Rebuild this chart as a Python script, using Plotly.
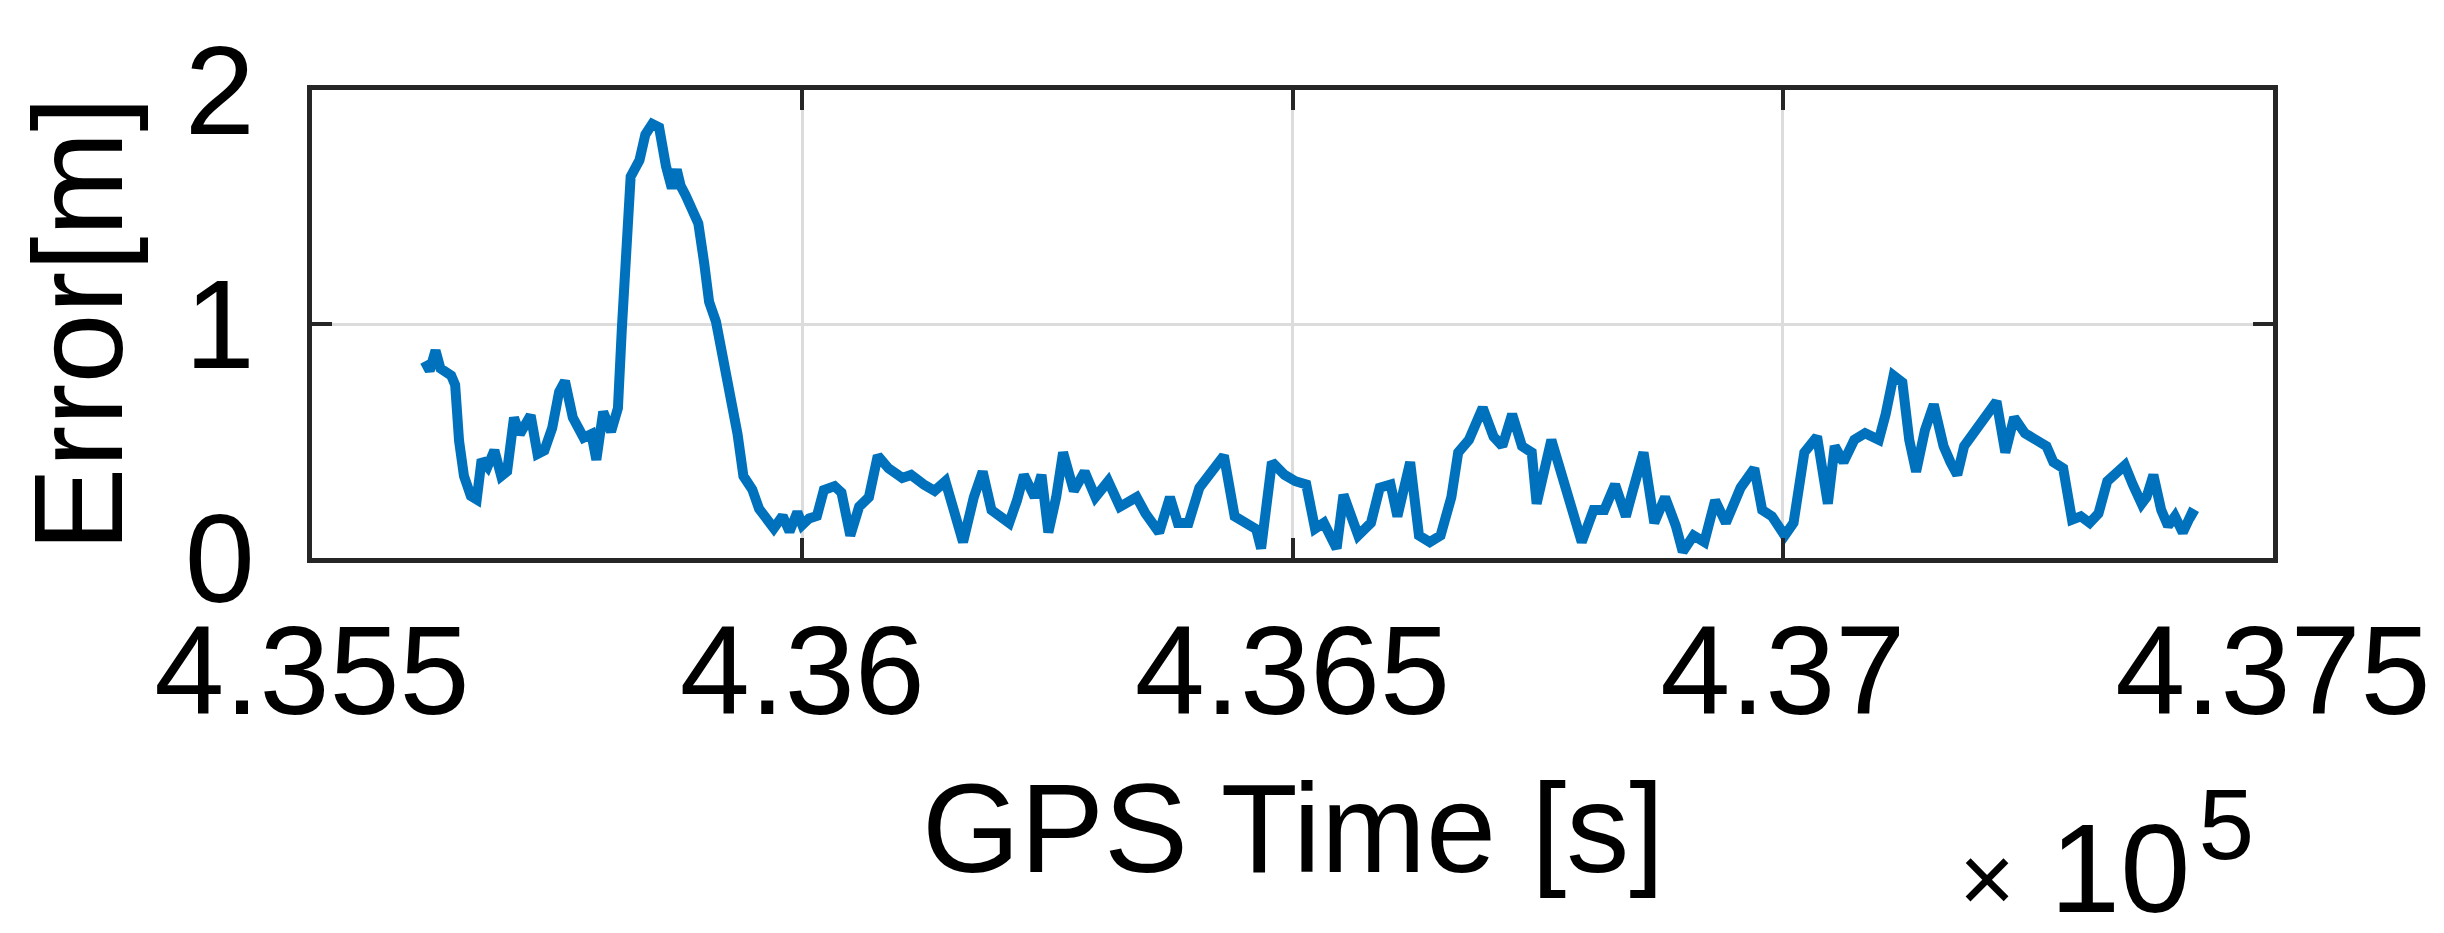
import plotly.graph_objects as go

# GPS time [s] and positioning error [m]
gps_time = [
    435615, 435620, 435626, 435631, 435642, 435646, 435650, 435655, 435662, 435668,
    435673, 435679, 435686, 435693, 435699, 435706, 435712, 435723, 435730, 435737,
    435745, 435752, 435758, 435766, 435777, 435785, 435790, 435797, 435805, 435812,
    435816, 435819, 435825, 435834, 435840, 435847, 435854, 435861, 435867, 435872,
    435876, 435881, 435887, 435894, 435900, 435905, 435912, 435918, 435927, 435934,
    435940, 435949, 435956, 435964, 435971, 435980, 435987, 435995, 436000, 436007,
    436015, 436022, 436033, 436040,
    436049, 436058, 436068, 436077, 436088, 436102, 436111, 436124, 436135, 436146,
    436157, 436164, 436175, 436184, 436193, 436204, 436211, 436219, 436226, 436237,
    436244, 436251, 436259, 436266, 436277, 436288, 436299, 436312, 436324, 436341,
    436350, 436364, 436375, 436383, 436394, 436405, 436419, 436430, 436441, 436452,
    436463, 436468, 436479, 436492, 436503, 436514, 436523, 436532, 436545, 436552,
    436567, 436580, 436589, 436600, 436607, 436620, 436629, 436640, 436651, 436662,
    436669, 436680, 436694, 436705, 436714, 436724, 436734, 436744, 436749, 436764,
    436775, 436785, 436795, 436807, 436818, 436829, 436840, 436847, 436858, 436869,
    436880, 436891, 436898, 436909, 436920, 436931, 436942, 436957, 436971, 436979,
    436989, 437002, 437011, 437022, 437035, 437046, 437053, 437062, 437073, 437084,
    437098, 437105, 437113, 437122, 437129, 437136, 437145, 437154, 437164, 437171,
    437178, 437185, 437196, 437207, 437218, 437227, 437236, 437247, 437258, 437269,
    437276, 437286, 437295, 437304, 437313, 437322, 437331, 437340, 437349, 437357,
    437366, 437371, 437378, 437386, 437393, 437400, 437408, 437417, 437422,
]
error_m = [
    0.84, 0.80, 0.887, 0.81, 0.78, 0.74, 0.50, 0.35, 0.265, 0.25,
    0.42, 0.39, 0.46, 0.35, 0.37, 0.60, 0.53, 0.61, 0.445, 0.46,
    0.556, 0.71, 0.756, 0.60, 0.514, 0.53, 0.42, 0.625, 0.54, 0.64,
    0.98, 1.26, 1.63, 1.70, 1.81, 1.855, 1.84, 1.675, 1.58, 1.66,
    1.59, 1.55, 1.495, 1.43, 1.26, 1.095, 1.01, 0.874, 0.71, 0.53,
    0.35, 0.293, 0.21, 0.155, 0.127, 0.18, 0.113, 0.196, 0.141, 0.169,
    0.18, 0.29, 0.307, 0.28,
    0.096, 0.219, 0.26, 0.437, 0.383, 0.342, 0.355, 0.314, 0.287, 0.328,
    0.178, 0.068, 0.26, 0.369, 0.205, 0.178, 0.15, 0.246, 0.355, 0.26,
    0.355, 0.109, 0.26, 0.451, 0.287, 0.369, 0.26, 0.328, 0.219, 0.26,
    0.191, 0.109, 0.26, 0.15, 0.15, 0.30, 0.369, 0.437, 0.178, 0.15,
    0.123, 0.041, 0.41, 0.355, 0.328, 0.314, 0.125, 0.15, 0.041, 0.27,
    0.096, 0.15, 0.30, 0.314, 0.178, 0.41, 0.096, 0.068, 0.096, 0.26,
    0.451, 0.505, 0.642, 0.519, 0.478, 0.615, 0.478, 0.451, 0.232, 0.505,
    0.342, 0.232, 0.068, 0.205, 0.205, 0.314, 0.178, 0.287, 0.451, 0.15,
    0.26, 0.137, 0.027, 0.096, 0.068, 0.246, 0.15, 0.30, 0.383, 0.205,
    0.178, 0.096, 0.15, 0.451, 0.519, 0.232, 0.478, 0.41, 0.505, 0.533,
    0.505, 0.615, 0.779, 0.75, 0.505, 0.369, 0.546, 0.656, 0.478, 0.41,
    0.355, 0.478, 0.546, 0.60, 0.669, 0.451, 0.60, 0.533, 0.505, 0.478,
    0.41, 0.383, 0.164, 0.178, 0.15, 0.19, 0.328, 0.369, 0.396, 0.314,
    0.232, 0.26, 0.355, 0.205, 0.137, 0.178, 0.109, 0.19, 0.178,
]

x_tick_vals = [435500, 436000, 436500, 437000, 437500]
x_tick_text = ["4.355", "4.36", "4.365", "4.37", "4.375"]
y_tick_vals = [0, 1, 2]
y_tick_text = ["0", "1", "2"]

FONT = "Liberation Sans, Arial, sans-serif"
AX = "#262626"
GRID = "#dcdcdc"
FS = 126

fig = go.Figure()
fig.add_trace(go.Scatter(
    x=gps_time, y=error_m, mode="lines",
    line=dict(color="#0072BD", width=10),
    showlegend=False,
))

axis_common = dict(
    showline=True, linewidth=5, linecolor=AX, mirror="allticks",
    ticks="inside", ticklen=20, tickwidth=4, tickcolor=AX,
    showgrid=True, gridcolor=GRID, gridwidth=3, zeroline=False,
    tickfont=dict(family=FONT, size=FS, color="black"),
    ticklabeloverflow="allow",
)

fig.update_layout(
    width=2444, height=933, autosize=False,
    margin=dict(l=304, r=179, t=62, b=383, pad=0),
    paper_bgcolor="white", plot_bgcolor="white",
    xaxis=dict(
        range=[435500, 437500], tickmode="array",
        tickvals=x_tick_vals, ticktext=x_tick_text,
        ticklabelstandoff=0,
        **axis_common,
    ),
    yaxis=dict(
        range=[0, 2], tickmode="array",
        tickvals=y_tick_vals, ticktext=y_tick_text,
        ticklabelstandoff=27,
        title=dict(text="Error[m]", font=dict(family=FONT, size=FS, color="black"), standoff=61),
        **axis_common,
    ),
    annotations=[
        dict(
            text="GPS Time [s]", xref="paper", yref="paper",
            x=0.5, y=-0.424, xanchor="center", yanchor="top", showarrow=False,
            font=dict(family=FONT, size=FS, color="black"),
        ),
        dict(
            text="<span style='font-size:96px'>×</span> 10<sup><span style='font-size:30px'> </span><span style='font-size:100px'>5</span></sup>",
            xref="paper", yref="paper",
            x=0.839, y=-0.445, xanchor="left", yanchor="top", showarrow=False,
            font=dict(family=FONT, size=FS, color="black"),
        ),
    ],
)

fig.write_html("out.html")
